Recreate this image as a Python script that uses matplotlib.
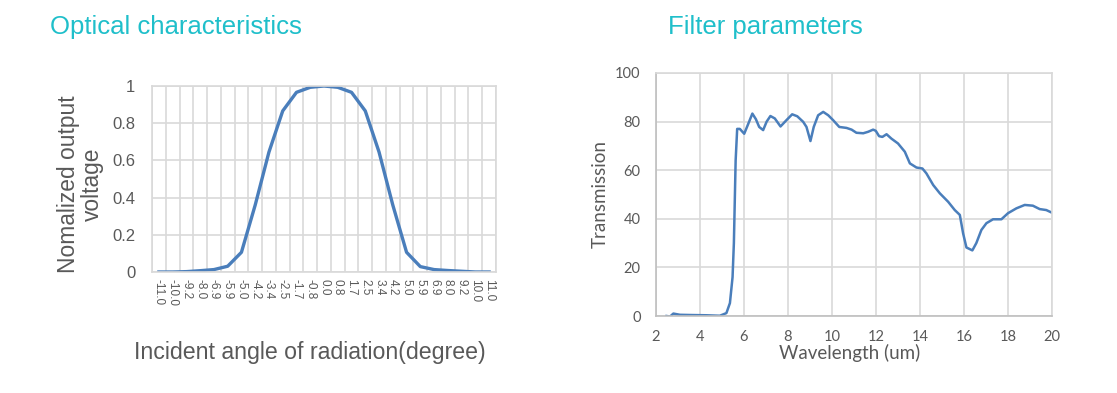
import numpy as np
import matplotlib.pyplot as plt

# left chart: normalized output vs incident angle
angle_labels = ["-11.0", "-10.0", "-9.2", "-8.0", "-6.9", "-5.9", "-5.0", "-4.2", "-3.4",
                "-2.5", "-1.7", "-0.8", "0.0", "0.8", "1.7", "2.5", "3.4", "4.2", "5.0",
                "5.9", "6.9", "8.0", "9.2", "10.0", "11.0"]
voltage = [0.0, 0.0, 0.002, 0.007, 0.013, 0.031, 0.106, 0.36, 0.645,
           0.866, 0.966, 0.993, 1.0, 0.993, 0.966, 0.866, 0.645, 0.36, 0.106,
           0.029, 0.013, 0.008, 0.004, 0.0, 0.0]

# right chart: filter transmission
wavelength = [2.48, 2.64, 2.79, 3.09, 3.6, 4.3, 4.9, 5.2, 5.36, 5.48, 5.54, 5.62, 5.69,
              5.81, 6.01, 6.19, 6.38, 6.54, 6.69, 6.87, 7.03, 7.2, 7.4, 7.66, 7.93,
              8.19, 8.42, 8.69, 8.84, 9.02, 9.17, 9.37, 9.6, 9.83, 10.05, 10.33,
              10.66, 10.89, 11.11, 11.42, 11.64, 11.87, 11.99, 12.14, 12.29, 12.48,
              12.7, 13.0, 13.31, 13.54, 13.84, 14.11, 14.29, 14.6, 14.9, 15.28,
              15.58, 15.81, 15.96, 16.11, 16.38, 16.56, 16.79, 17.02, 17.32, 17.7,
              18.0, 18.38, 18.76, 19.13, 19.44, 19.74, 20.0]
transmission = [0.0, -0.2, 1.0, 0.5, 0.4, 0.3, 0.1, 1.2, 5.3, 16, 30, 64, 77,
                77, 75, 79, 83.3, 81, 77.8, 76.5, 80, 82.3, 81.3, 78, 80.6,
                83, 82.2, 79.9, 77.8, 72, 77.8, 82.6, 84, 82.6, 80.6, 77.8,
                77.4, 76.7, 75.4, 75.2, 75.8, 76.7, 76.2, 74, 73.7, 74.8,
                73, 71, 67.6, 62.8, 61.1, 60.7, 58.7, 53.9, 50.5, 47,
                43.6, 41.6, 34, 28.2, 27, 30, 35.4, 38.2, 39.8, 39.8,
                42.3, 44.3, 45.7, 45.4, 44, 43.6, 42.5]

teal = "#1fbfca"
grey_text = "#595959"
grid_c = "#d9d9d9"
line_c = "#4a7ebb"
W, H = 1117, 393

fig = plt.figure(figsize=(11.17, 3.93), dpi=100)

fig.text(50 / W, 1 - 27 / H, "Optical characteristics", color=teal,
         fontsize=18.5, family="Liberation Sans", va="center", ha="left")
fig.text(668 / W, 1 - 27 / H, "Filter parameters", color=teal,
         fontsize=18.5, family="Liberation Sans", va="center", ha="left")

# ---- left
ax1 = fig.add_axes([152 / W, 1 - 272 / H, 344 / W, 186 / H])
x = np.arange(len(angle_labels))
ax1.plot(x, voltage, color=line_c, lw=2.4, solid_joinstyle="round")
ax1.set_xlim(-0.5, len(angle_labels) - 0.5)
ax1.set_ylim(0, 1)
ax1.set_xticks(x)
ax1.set_xticklabels(angle_labels, rotation=270, fontsize=8.5, color=grey_text,
                    family="Liberation Sans")
ax1.set_xticks(np.arange(-0.5, len(angle_labels)), minor=True)
ax1.set_yticks([0, 0.2, 0.4, 0.6, 0.8, 1])
ax1.set_yticklabels(["0", "0.2", "0.4", "0.6", "0.8", "1"], fontsize=12,
                    color=grey_text, family="Liberation Sans")
ax1.tick_params(axis="both", which="both", length=0)
ax1.tick_params(axis="y", pad=12)
ax1.tick_params(axis="x", pad=5)
ax1.grid(True, which="minor", axis="x", color=grid_c, lw=1.2)
ax1.grid(True, which="major", axis="y", color=grid_c, lw=1.2)
ax1.set_axisbelow(True)
for s in ax1.spines.values():
    s.set_color(grid_c)
    s.set_linewidth(1.2)
fig.text(80 / W, 1 - 184 / H, "Nomalized output\nvoltage", fontsize=16.4,
         color=grey_text, family="Liberation Sans", rotation=90,
         ha="center", va="center", multialignment="center", linespacing=1.05)
fig.text(310 / W, 1 - 353 / H, "Incident angle of radiation(degree)", fontsize=16.7,
         color=grey_text, family="Liberation Sans", ha="center", va="center")

# ---- right
ax2 = fig.add_axes([656 / W, 1 - 316 / H, 396 / W, 243 / H])
ax2.plot(wavelength, transmission, color=line_c, lw=1.8)
ax2.set_xlim(2, 20)
ax2.set_ylim(0, 100)
ax2.set_xticks(np.arange(2, 21, 2))
ax2.set_yticks(np.arange(0, 101, 20))
ax2.tick_params(axis="both", length=0, labelsize=10.5, labelcolor=grey_text)
for lab in ax2.get_xticklabels() + ax2.get_yticklabels():
    lab.set_family("Lato")
ax2.tick_params(axis="y", pad=11)
ax2.tick_params(axis="x", pad=10)
ax2.grid(True, color=grid_c, lw=1.2)
ax2.set_axisbelow(True)
for name, s in ax2.spines.items():
    s.set_color(grid_c)
    s.set_linewidth(1.2)
ax2.spines["left"].set_color("#bfbfbf")
ax2.spines["bottom"].set_color("#bfbfbf")
fig.text(600 / W, 1 - 194 / H, "Transmission", fontsize=13.5, color=grey_text,
         family="Lato", rotation=90, ha="center", va="center")
fig.text(850 / W, 1 - 353 / H, "Wavelength (um)", fontsize=13.5, color=grey_text,
         family="Lato", ha="center", va="center")

fig.savefig("out.png", dpi=100)
